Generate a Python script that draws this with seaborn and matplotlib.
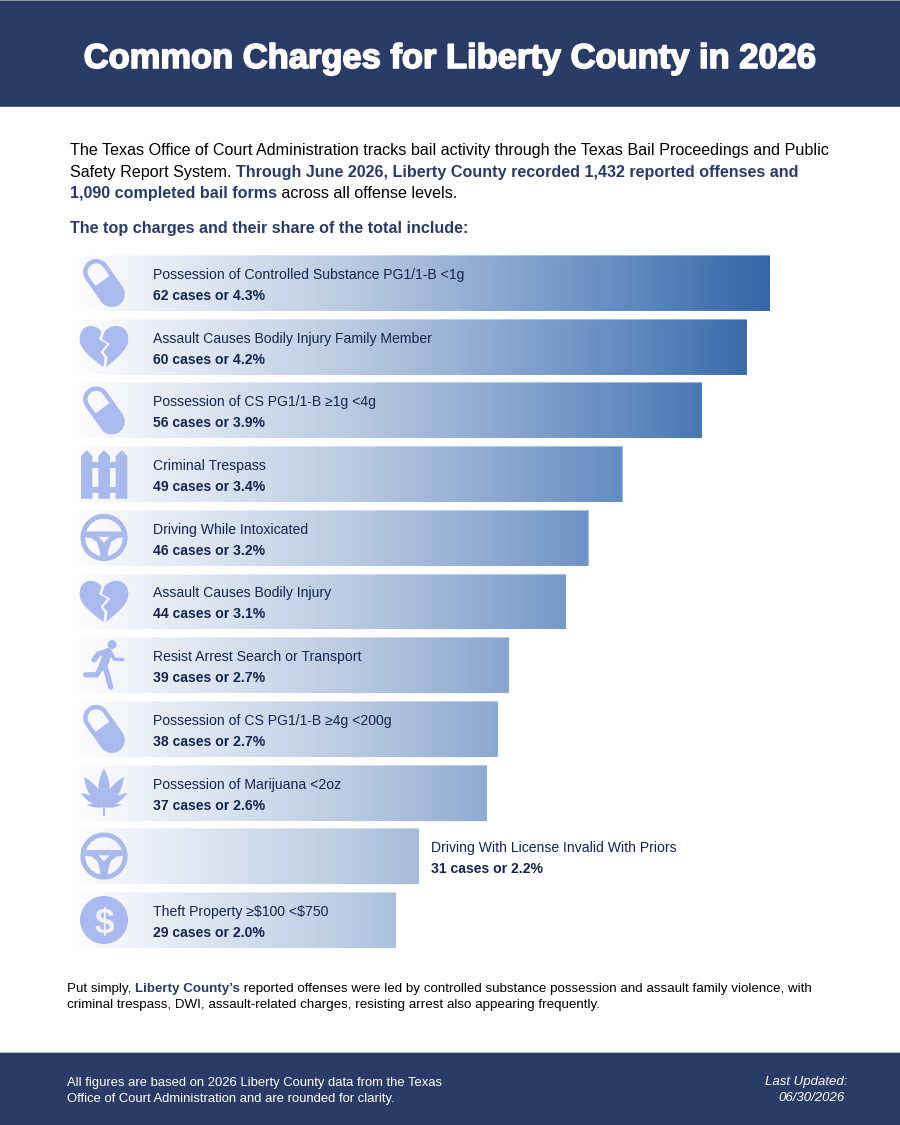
import numpy as np
import matplotlib
matplotlib.use("Agg")
import matplotlib.pyplot as plt
import matplotlib.patheffects as pe
from matplotlib.colors import LinearSegmentedColormap
from matplotlib.path import Path
from matplotlib.patches import PathPatch, Rectangle, Circle
import seaborn as sns

charges = ["Possession of Controlled Substance PG1/1-B <1g",
           "Assault Causes Bodily Injury Family Member",
           "Possession of CS PG1/1-B ≥1g <4g",
           "Criminal Trespass",
           "Driving While Intoxicated",
           "Assault Causes Bodily Injury",
           "Resist Arrest Search or Transport",
           "Possession of CS PG1/1-B ≥4g <200g",
           "Possession of Marijuana <2oz",
           "Driving With License Invalid With Priors",
           "Theft Property ≥$100 <$750"]
cases = [62, 60, 56, 49, 46, 44, 39, 38, 37, 31, 29]
shares = [4.3, 4.2, 3.9, 3.4, 3.2, 3.1, 2.7, 2.7, 2.6, 2.2, 2.0]
icons = ["pill", "heart", "pill", "fence", "wheel", "heart", "runner", "pill", "leaf", "wheel", "dollar"]
outside_label = ["Driving With License Invalid With Priors"]

NAVY = "#2a3c66"
LABEL = "#14264f"
ICON = "#aabaee"
FS = 0.72  # px -> pt at dpi 100

sns.set_theme(style="white")
plt.rcParams["font.family"] = ["Liberation Sans", "DejaVu Sans"]

W, H = 900, 1125
fig = plt.figure(figsize=(9, 11.25), dpi=100, facecolor="white")

# ---- bars: seaborn chart with shared gradient
PX_PER_CASE = 11.33
X0, STEP, Y0 = 67.3, 63.7, 283
ax = fig.add_axes([X0 / W, 1 - (Y0 - STEP / 2 + STEP * 11) / H, (W - X0) / W, STEP * 11 / H])
sns.barplot(x=cases, y=charges, orient="h", color="white", width=0.879, saturation=1, ax=ax)
xmax = (W - X0) / PX_PER_CASE
grad = LinearSegmentedColormap.from_list("bar", [(0, "#ffffff"), (0.41, "#b8c9e2"), (0.81, "#5f88bf"), (1, "#3566a8")])
ramp = np.linspace(0, 1, 600)[None, :]
for bar in ax.patches:
    im = ax.imshow(ramp, cmap=grad, extent=(0, max(cases), 10.5, -0.5), aspect="auto", zorder=0)
    im.set_clip_path(bar)
    bar.set_facecolor("none")
    bar.set_edgecolor((1, 1, 1, 0.4))
    bar.set_linewidth(0.8)
ax.set_xlim(0, xmax)
ax.set_ylim(10.5, -0.5)
ax.axis("off")

# ---- overlay in pixel coordinates
ov = fig.add_axes([0, 0, 1, 1], zorder=3)
ov.set_xlim(0, W)
ov.set_ylim(H, 0)
ov.axis("off")
ov.patch.set_alpha(0)

ov.add_patch(Rectangle((0, 0), W, 106.5, fc=NAVY, ec="none"))
ov.add_patch(Rectangle((0, 0), W, 1, fc="#8e97ae", ec="none"))
ov.add_patch(Rectangle((0, 106), W, 1, fc="#5d6c8e", ec="none"))
ov.add_patch(Rectangle((0, 1052.5), W, 72.5, fc=NAVY, ec="none"))
ov.add_patch(Rectangle((0, 1052), W, 1, fc="#b9bfcc", ec="none"))

renderer = fig.canvas.get_renderer()


def txt(x, y, s, px, color="black", weight="normal", **kw):
    return ov.text(x, y, s, fontsize=px * FS, color=color, fontweight=weight, va="baseline",
                   parse_math=False, **kw)


def advance(t):
    """Width in px of a text, counting trailing spaces."""
    s = t.get_text()
    t.set_text("x" + s + "x")
    a = t.get_window_extent(renderer).width
    t.set_text("xx")
    b = t.get_window_extent(renderer).width
    t.set_text(s)
    return a - b


def runs(x, y, parts, px):
    for s, color, weight in parts:
        t = txt(x, y, s, px, color, weight)
        x += advance(t)


# ---- header and prose
title = txt(450, 68, "Common Charges for Liberty County in 2026", 34.5, "white", "bold", ha="center")
title.set_path_effects([pe.withStroke(linewidth=1.2, foreground="white")])

BODY = 16.15
runs(70, 155, [("The Texas Office of Court Administration tracks bail activity through the Texas Bail Proceedings and Public", "black", "normal")], BODY)
runs(70, 177, [("Safety Report System. ", "black", "normal"),
               ("Through June 2026, Liberty County recorded 1,432 reported offenses and", NAVY, "bold")], BODY)
runs(70, 198, [("1,090 completed bail forms", NAVY, "bold"), (" across all offense levels.", "black", "normal")], BODY)
runs(70, 233, [("The top charges and their share of the total include:", NAVY, "bold")], BODY)

runs(67, 992, [("Put simply, ", "black", "normal"), ("Liberty County’s", NAVY, "bold"),
               (" reported offenses were led by controlled substance possession and assault family violence, with", "black", "normal")], 13.4)
runs(67, 1008, [("criminal trespass, DWI, assault-related charges, resisting arrest also appearing frequently.", "black", "normal")], 13.4)

txt(67, 1086, "All figures are based on 2026 Liberty County data from the Texas", 13.05, "white")
txt(67, 1102, "Office of Court Administration and are rounded for clarity.", 13.05, "white")
txt(847, 1085, "Last Updated:", 13.2, "white", style="italic", ha="right")
txt(845, 1101, "06/30/2026", 13.2, "white", style="italic", ha="right")


# ---- icons (local px offsets from icon centre)
def fill(verts, codes=None, color=ICON):
    ov.add_patch(PathPatch(Path(verts, codes), fc=color, ec="none", lw=0))


def poly(pts):
    pts = np.asarray(pts, float)
    return pts, [Path.MOVETO] + [Path.LINETO] * (len(pts) - 2) + [Path.CLOSEPOLY]


def zoomed(pts, cx, cy, ox, oy):
    return np.array([[cx + (p[0] - ox) / 3, cy + (p[1] - oy) / 3] for p in pts])


def pill(cx, cy):
    a = np.array([-7.8, -11.0])
    b = np.array([7.8, 11.0])
    u = (b - a) / np.linalg.norm(b - a)
    n = np.array([-u[1], u[0]])
    ang = np.arctan2(u[1], u[0])
    R, r = 13.0, 8.6
    t1 = np.linspace(ang - np.pi / 2, ang + np.pi / 2, 30)
    t2 = np.linspace(ang + np.pi / 2, ang + 3 * np.pi / 2, 30)
    outer = np.vstack([b + R * np.c_[np.cos(t1), np.sin(t1)], a + R * np.c_[np.cos(t2), np.sin(t2)]])
    outer = np.vstack([outer, outer[0]])
    mid = -u * 2.6
    hole = np.vstack([a + r * np.c_[np.cos(t2), np.sin(t2)], mid - n * r, mid + n * r])
    hole = np.vstack([hole, hole[0]])[::-1]
    v1, c1 = poly(outer)
    v2, c2 = poly(hole)
    fill(np.vstack([v1, v2]) + [cx, cy], c1 + c2)


def bez(p0, p1, p2, p3, n=24):
    t = np.linspace(0, 1, n)[:, None]
    p0, p1, p2, p3 = map(np.array, (p0, p1, p2, p3))
    return (1 - t) ** 3 * p0 + 3 * (1 - t) ** 2 * t * p1 + 3 * (1 - t) * t ** 2 * p2 + t ** 3 * p3


def heart(cx, cy):
    right = np.vstack([bez((133, 262), (150, 236), (206, 234), (205, 285)), bez((205, 285), (205, 315), (165, 345), (139, 367))])
    crack_r = [(143, 338), (130, 322), (150, 298), (126, 283)]
    fill(*poly(zoomed(list(right) + crack_r + [(133, 262)], cx, cy, 132, 306)))
    left = np.vstack([bez((125, 262), (110, 236), (58, 234), (59, 285)), bez((59, 285), (59, 315), (100, 345), (130, 367))])
    crack_l = [(134, 340), (122, 322), (141, 298), (117, 283)]
    fill(*poly(zoomed(list(left) + crack_l + [(125, 262)], cx, cy, 132, 306)))


def fence(cx, cy):
    for l, m, r in [(18, 35, 52), (70, 87, 105), (122, 140, 157)]:
        fill(*poly(zoomed([(l, 158), (l, 30), (m, 12), (r, 30), (r, 158), (l, 158)], cx, cy, 87, 84)))
    for top, bot in [(48, 66), (123, 140)]:
        fill(*poly(zoomed([(18, top), (157, top), (157, bot), (18, bot), (18, top)], cx, cy, 87, 84)))


def wheel(cx, cy):
    ov.add_patch(Circle((cx, cy - 0.3), 21.2, fc="none", ec=ICON, lw=4.8 * FS))
    outer = zoomed([(20, 68), (154, 68), (154, 84), (125, 88), (108, 100), (100, 125), (97, 148), (77, 148),
                    (74, 125), (66, 100), (50, 88), (20, 84), (20, 68)], cx, cy, 87, 87)
    hole = zoomed([(87, 102), (104, 84), (70, 84), (87, 102)], cx, cy, 87, 87)
    v, c = poly(outer)
    v2, c2 = poly(hole)
    fill(np.vstack([v, v2]), c + c2)


def runner(cx, cy):
    z = lambda pts: zoomed(pts, cx, cy, 87, 84)
    ov.add_patch(Circle(tuple(z([(111, 22)])[0]), 13.5 / 3, fc=ICON, ec="none"))
    for pts, w in [([(57, 68), (70, 50), (100, 42)], 16), ([(98, 46), (92, 65), (84, 88)], 26),
                   ([(107, 45), (118, 66), (144, 67)], 10), ([(82, 85), (65, 113), (32, 113)], 16),
                   ([(85, 80), (95, 105), (107, 150)], 16)]:
        p = z(pts)
        ov.plot(p[:, 0], p[:, 1], color=ICON, lw=w / 3 * FS, solid_capstyle="round", solid_joinstyle="round")


def leaf(cx, cy):
    base = np.array([87, 130.0])
    for tip, w in [((87, 14), 34), ((147, 40), 30), ((27, 40), 30), ((158, 88), 19), ((17, 88), 19),
                   ((140, 123), 10), ((35, 123), 10)]:
        tip = np.array(tip, float)
        d = tip - base
        n = np.array([-d[1], d[0]]) / np.linalg.norm(d)
        t = np.linspace(0, 1, 30)
        prof = w / 2 * np.sin(np.pi * t)
        pts = np.vstack([base + np.outer(t, d) + np.outer(prof, n),
                         (base + np.outer(t, d) - np.outer(prof, n))[::-1], [base]])
        fill(*poly(zoomed(pts, cx, cy, 87, 87)))
    fill(*poly(zoomed([(85, 125), (90, 125), (90, 158), (85, 158), (85, 125)], cx, cy, 87, 87)))


def dollar(cx, cy):
    ov.add_patch(Circle((cx, cy), 24, fc=ICON, ec="none"))
    txt(cx, cy + 12.5, "$", 35, "#f0f4fa", "bold", ha="center")


draw = dict(pill=pill, heart=heart, fence=fence, wheel=wheel, runner=runner, leaf=leaf, dollar=dollar)

# ---- row labels, placed from the bar geometry
for i, (name, n, s, ic) in enumerate(zip(charges, cases, shares, icons)):
    xc, yc = ax.transData.transform((n, i))
    yc = H - yc
    draw[ic](104, yc)
    x = xc + 12 if name in outside_label else 153
    txt(x, yc - 4, name, 14.03, LABEL)
    txt(x, yc + 17, f"{n} cases or {s:.1f}%", 14.03, LABEL, "bold")

fig.savefig("out.png", dpi=100, facecolor="white")
